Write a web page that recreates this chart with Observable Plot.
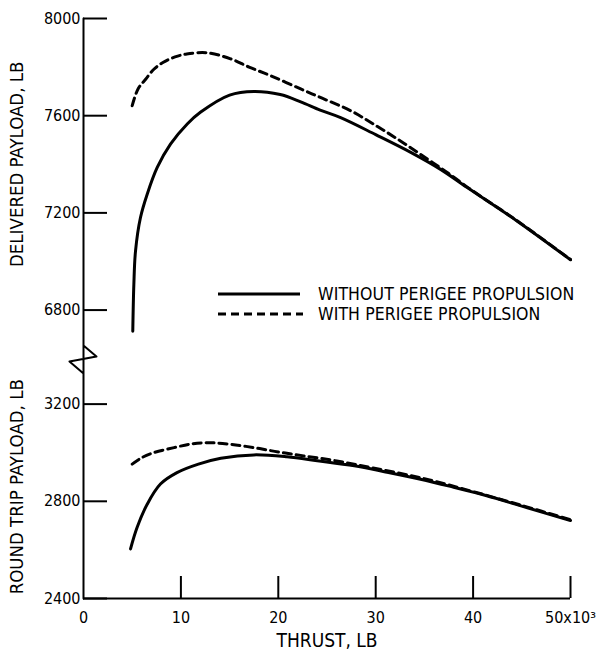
<!DOCTYPE html>
<html>
<head>
<meta charset="utf-8">
<script src="https://cdn.jsdelivr.net/npm/d3@7"></script>
<script src="https://cdn.jsdelivr.net/npm/@observablehq/plot@0.6"></script>
<style>
  html, body { margin: 0; padding: 0; background: #fff; }
  #wrap { position: relative; width: 603px; height: 654px; }
  #legend { position: absolute; left: 218px; top: 284px; font-family: "DejaVu Sans Condensed", sans-serif; font-size: 17.5px; letter-spacing: 0.1px; color: #000; }
  #legend .row { display: flex; align-items: center; height: 20px; line-height: 20px; white-space: nowrap; }
  #legend svg { display: block; margin-right: 15px; }
</style>
</head>
<body>
<div id="wrap"></div>
<script>
// ---- Data ----
// Thrust, thousands of lb
const upperSolidThrust  = [5.06, 5.17, 5.34, 5.85, 6.54, 7.57, 8.93, 10.65, 12.0, 15.0, 17.5, 20.2, 22.3, 24.3, 26.4, 30.0, 33.6, 36.7, 39.4, 44.5, 50.0];
const upperSolidPayload = [6713, 6906, 7043, 7181, 7277, 7387, 7483, 7566, 7614, 7685, 7700, 7687, 7657, 7623, 7592, 7522, 7449, 7378, 7304, 7167, 7007];

const upperDashThrust  = [5.0, 5.6, 6.4, 7.2, 8.2, 9.4, 10.6, 12.7, 15.1, 17.0, 19.2, 22.3, 24.5, 27.4, 30.0, 32.5, 35.0, 37.5, 39.4, 44.5, 50.0];
const upperDashPayload = [7641, 7710, 7751, 7790, 7820, 7842, 7854, 7859, 7834, 7800, 7765, 7710, 7672, 7621, 7560, 7497, 7430, 7362, 7306, 7168, 7008];

const lowerSolidThrust  = [4.83, 5.5, 6.54, 7.9, 9.6, 11.8, 14.1, 17.5, 20.9, 24.0, 27.8, 31.0, 34.6, 38.0, 41.4, 45.0, 50.0];
const lowerSolidPayload = [2604, 2692, 2788, 2871, 2918, 2953, 2977, 2991, 2983, 2967, 2946, 2921, 2891, 2858, 2823, 2780, 2721];

const lowerDashThrust  = [5.0, 6.0, 7.2, 9.3, 11.2, 13.0, 15.0, 17.5, 20.0, 22.6, 26.0, 30.0, 35.0, 40.0, 45.0, 50.0];
const lowerDashPayload = [2953, 2980, 3000, 3021, 3037, 3041, 3035, 3021, 3003, 2987, 2966, 2935, 2893, 2840, 2783, 2724];

const xTickValues = [0, 10, 20, 30, 40, 50];
const yTicksLower = [2400, 2800, 3200];
const yTicksUpper = [6800, 7200, 7600, 8000];

const yTitleLabels = ["DELIVERED PAYLOAD, LB", "ROUND TRIP PAYLOAD, LB"];
const yTitleCenters = [7400, 2860];
const xTitle = "THRUST, LB";

const legendLabels = ["WITHOUT PERIGEE PROPULSION", "WITH PERIGEE PROPULSION"];

// Broken axis: upper panel values are shifted down by OFF onto a shared scale
const OFF = 3213;
const BREAK = 3500; // virtual values above this belong to the upper panel
const toV = (v) => (v >= 6000 ? v - OFF : v);
const fromV = (v) => (v > BREAK ? v + OFF : v);

// axis with break squiggle (virtual units)
const axisPathX = [0, 0, 1.33, -1.44, 0, 0];
const axisPathY = [2400, 3441, 3396, 3375, 3326, 8000 - OFF];

const mk = (xs, ys, series) => xs.map((x, i) => ({x, y: toV(ys[i]), series}));
const upperSolid = mk(upperSolidThrust, upperSolidPayload, "us");
const upperDash = mk(upperDashThrust, upperDashPayload, "ud");
const lowerSolid = mk(lowerSolidThrust, lowerSolidPayload, "ls");
const lowerDash = mk(lowerDashThrust, lowerDashPayload, "ld");
const axisPath = axisPathX.map((x, i) => ({x, y: axisPathY[i]}));
const yTicksV = [...yTicksLower, ...yTicksUpper].map(toV);
const yTitles = yTitleLabels.map((label, i) => ({label, y: toV(yTitleCenters[i])}));

const W = 603, H = 654;
const mL = 83, mR = 33, mT = 18, mB = 56;
const frameW = W - mL - mR, frameH = H - mT - mB;

const tickFont = "DejaVu Sans Condensed";
const titleFont = "DejaVu Sans Condensed";

const lineOpts = {x: "x", y: "y", stroke: "#000", strokeWidth: 3, curve: "catmull-rom"};
const dashOpts = {...lineOpts, strokeDasharray: "8,5"};

const chart = Plot.plot({
  width: W,
  height: H,
  marginLeft: mL,
  marginRight: mR,
  marginTop: mT,
  marginBottom: mB,
  style: {fontFamily: tickFont, background: "#fff", color: "#000"},
  x: {domain: [0, 50]},
  y: {domain: [2400, 8000 - OFF]},
  marks: [
    // axes lines
    Plot.line(axisPath, {x: "x", y: "y", stroke: "#000", strokeWidth: 2}),
    Plot.ruleY([2400], {stroke: "#000", strokeWidth: 2}),
    // inward ticks
    Plot.tickY(yTicksV, {y: d => d, stroke: "#000", strokeWidth: 2, insetRight: frameW - 24}),
    Plot.tickX(xTickValues.filter(d => d > 0), {x: d => d, stroke: "#000", strokeWidth: 2, insetTop: frameH - 22}),
    // tick labels
    Plot.axisY(yTicksV, {tickSize: 0, tickPadding: 3, tickFormat: v => String(Math.round(fromV(v))), label: null, fontSize: 16}),
    Plot.axisX(xTickValues, {tickSize: 0, tickPadding: 13, tickFormat: d => (d === 50 ? "50x10\u00B3" : String(d)), label: null, fontSize: 16}),
    // axis titles
    Plot.text(yTitles, {frameAnchor: "left", y: "y", text: "label", rotate: -90, dx: -66, textAnchor: "middle", lineAnchor: "middle", fontSize: 18.5, fontFamily: titleFont}),
    Plot.text([xTitle], {frameAnchor: "bottom", text: d => d, dy: 42, textAnchor: "middle", lineAnchor: "middle", fontSize: 19, fontFamily: titleFont}),
    // data curves
    Plot.line(upperSolid, lineOpts),
    Plot.line(upperDash, dashOpts),
    Plot.line(lowerSolid, lineOpts),
    Plot.line(lowerDash, dashOpts)
  ]
});

const wrap = document.getElementById("wrap");
wrap.appendChild(chart);

// legend
const legend = document.createElement("div");
legend.id = "legend";
const swatchLens = [82, 85];
const swatchDash = [null, "8,5"];
legendLabels.forEach((label, i) => {
  const row = document.createElement("div");
  row.className = "row";
  const ns = "http://www.w3.org/2000/svg";
  const svg = document.createElementNS(ns, "svg");
  svg.setAttribute("width", 85);
  svg.setAttribute("height", 20);
  const ln = document.createElementNS(ns, "line");
  ln.setAttribute("x1", 0); ln.setAttribute("x2", swatchLens[i]);
  ln.setAttribute("y1", 10); ln.setAttribute("y2", 10);
  ln.setAttribute("stroke", "#000"); ln.setAttribute("stroke-width", 3);
  if (swatchDash[i]) ln.setAttribute("stroke-dasharray", swatchDash[i]);
  svg.appendChild(ln);
  const span = document.createElement("span");
  span.textContent = label;
  row.appendChild(svg);
  row.appendChild(span);
  legend.appendChild(row);
});
wrap.appendChild(legend);
</script>
</body>
</html>
